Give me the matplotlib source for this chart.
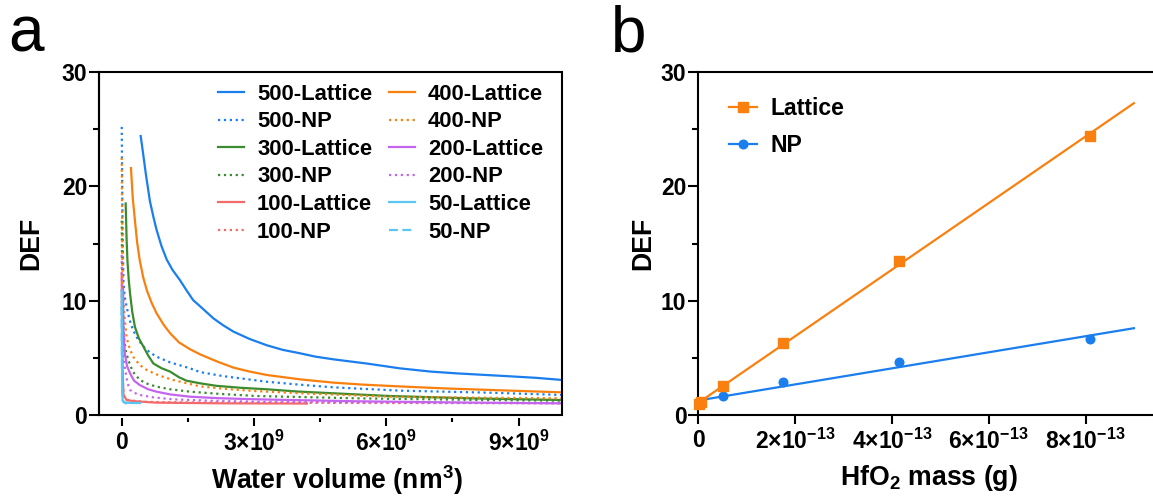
import numpy as np
import matplotlib
matplotlib.use('Agg')
import matplotlib.pyplot as plt
from matplotlib.patches import Rectangle
from matplotlib.lines import Line2D

plt.rcParams['font.family'] = ['Liberation Sans', 'DejaVu Sans']
plt.rcParams['mathtext.fontset'] = 'custom'
plt.rcParams['mathtext.rm'] = 'Liberation Sans:bold'
plt.rcParams['mathtext.bf'] = 'Liberation Sans:bold'
plt.rcParams['mathtext.it'] = 'Liberation Sans:bold'
plt.rcParams['mathtext.default'] = 'bf'

# ---------------- Panel a data (water volume in units of 1e9 nm^3) ----------------
v_500_lat = [0.43, 0.47, 0.55, 0.64, 0.72, 0.79, 0.9, 1.02, 1.15, 1.32, 1.47, 1.62, 1.78, 2.08, 2.3, 2.53,
             2.9, 3.29, 3.65, 4.04, 4.4, 4.8, 5.56, 6.31, 7.0, 7.6, 8.73, 9.4, 10.0]
d_500_lat = [24.4, 23.3, 21.0, 18.7, 17.3, 16.2, 14.8, 13.6, 12.7, 11.8, 10.9, 10.05, 9.5, 8.45, 7.85, 7.3,
             6.65, 6.1, 5.7, 5.4, 5.1, 4.87, 4.5, 4.08, 3.8, 3.64, 3.4, 3.25, 3.06]
v_500_np = [0.0, 0.01, 0.02, 0.04, 0.07, 0.11, 0.18, 0.26, 0.37, 0.49, 0.63, 0.79, 1.1, 1.55, 1.78, 2.3,
            3.29, 4.04, 4.8, 6.31, 8.35, 10.0]
d_500_np = [25.2, 21.0, 16.0, 11.5, 10.3, 9.5, 8.3, 7.4, 6.6, 6.0, 5.5, 5.1, 4.6, 4.08, 3.75, 3.4,
            2.91, 2.65, 2.42, 2.13, 1.95, 1.75]
v_400_lat = [0.21, 0.25, 0.30, 0.35, 0.41, 0.49, 0.57, 0.68, 0.79, 0.95, 1.10, 1.3, 1.55, 1.78, 2.15, 2.53,
             2.9, 3.29, 4.04, 4.8, 5.5, 6.31, 7.3, 8.35, 10.0]
d_400_lat = [21.6, 19.0, 17.0, 15.1, 13.5, 12.0, 10.9, 9.8, 8.9, 7.9, 7.14, 6.35, 5.75, 5.3, 4.7, 4.15,
             3.8, 3.5, 3.12, 2.83, 2.65, 2.5, 2.33, 2.19, 1.98]
v_400_np = [0.0, 0.01, 0.02, 0.05, 0.11, 0.18, 0.26, 0.4, 0.57, 0.85, 1.17, 1.78, 2.3, 3.0, 4.04, 6.08, 8.0, 10.0]
d_400_np = [22.5, 17.0, 12.0, 9.2, 6.8, 5.8, 5.1, 4.4, 3.93, 3.45, 3.06, 2.5, 2.3, 2.1, 1.9, 1.6, 1.52, 1.46]
v_300_lat = [0.09, 0.11, 0.13, 0.16, 0.19, 0.24, 0.30, 0.39, 0.49, 0.6, 0.72, 0.9, 1.10, 1.3, 1.47, 1.78,
             2.15, 2.7, 3.29, 4.0, 4.8, 6.08, 8.0, 10.0]
d_300_lat = [18.5, 15.5, 13.5, 11.8, 10.6, 9.0, 7.7, 6.7, 6.0, 5.2, 4.5, 4.1, 3.79, 3.3, 3.0, 2.77,
             2.55, 2.38, 2.25, 2.05, 1.9, 1.66, 1.45, 1.31]
v_300_np = [0.0, 0.01, 0.03, 0.06, 0.1, 0.15, 0.25, 0.41, 0.6, 0.79, 1.1, 1.55, 2.2, 3.06, 5.33, 8.0, 10.0]
d_300_np = [17.0, 12.0, 8.5, 6.5, 5.5, 4.8, 3.8, 3.06, 2.7, 2.48, 2.25, 2.04, 1.85, 1.66, 1.46, 1.32, 1.25]
v_200_lat = [0.03, 0.04, 0.07, 0.12, 0.19, 0.28, 0.41, 0.6, 0.79, 1.1, 1.55, 2.2, 3.06, 5.33, 8.0, 10.0]
d_200_lat = [11.0, 7.5, 5.4, 4.3, 3.64, 3.0, 2.62, 2.25, 2.04, 1.8, 1.6, 1.47, 1.37, 1.2, 1.08, 1.02]
v_200_np = [0.0, 0.01, 0.03, 0.08, 0.13, 0.19, 0.28, 0.41, 0.7, 1.17, 2.0, 3.06, 6.84, 10.0]
d_200_np = [14.0, 9.0, 5.5, 3.9, 2.8, 2.19, 1.95, 1.75, 1.55, 1.37, 1.25, 1.16, 1.07, 1.03]
v_100_lat = [0.0, 0.01, 0.02, 0.04, 0.11, 0.3, 0.79, 2.3, 4.2]
d_100_lat = [12.4, 8.0, 4.0, 1.8, 1.3, 1.2, 1.08, 1.02, 1.0]
v_100_np = [0.0, 0.01, 0.02, 0.05, 0.15, 0.5, 2.0, 6.0, 10.0]
d_100_np = [11.0, 6.0, 3.0, 1.6, 1.3, 1.15, 1.08, 1.05, 1.03]
v_50_lat = [0.0, 0.005, 0.01, 0.02, 0.05, 0.2, 0.42]
d_50_lat = [10.9, 6.0, 2.5, 1.3, 1.1, 1.05, 1.05]
v_50_np = [0.0, 0.005, 0.01, 0.03, 0.08, 0.12]
d_50_np = [9.5, 5.0, 2.0, 1.2, 1.05, 1.0]

a_xticks = [0, 3, 6, 9]
a_xticklabels = ['0', r'$3{\times}10^{9}$', r'$6{\times}10^{9}$', r'$9{\times}10^{9}$']
a_yticks = [0, 10, 20, 30]

# ---------------- Panel b data (HfO2 mass in units of 1e-13 g) ----------------
mass = [0.008, 0.065, 0.518, 1.75, 4.14, 8.09]
def_lattice = [1.0, 1.1, 2.5, 6.3, 13.5, 24.4]
def_np = [1.0, 1.05, 1.65, 2.9, 4.6, 6.65]
fit_x_range = [0.0, 9.0]
b_xticks = [0, 2, 4, 6, 8]
b_xticklabels = ['0', r'$2{\times}10^{-13}$', r'$4{\times}10^{-13}$', r'$6{\times}10^{-13}$', r'$8{\times}10^{-13}$']
b_yticks = [0, 10, 20, 30]

C_BLUE = '#1A7EEE'
C_ORANGE = '#F9800F'
C_GREEN = '#3B8C2E'
C_RED = '#F26B6B'
C_PURPLE = '#C465EE'
C_LBLUE = '#5CC6F3'

W, H = 1153, 497
fig = plt.figure(figsize=(W / 100, H / 100), dpi=100)

SP_LW = 1.5
TICK_FS = 16.5
LABEL_FS = 19.2

# ---------------- Panel a ----------------
axa = fig.add_axes([99 / W, 82 / H, (562 - 99) / W, 343 / H])
LW = 1.6
series = [
    (v_500_lat, d_500_lat, C_BLUE, '-', '500-Lattice'),
    (v_500_np, d_500_np, C_BLUE, ':', '500-NP'),
    (v_300_lat, d_300_lat, C_GREEN, '-', '300-Lattice'),
    (v_300_np, d_300_np, C_GREEN, ':', '300-NP'),
    (v_100_lat, d_100_lat, C_RED, '-', '100-Lattice'),
    (v_100_np, d_100_np, C_RED, ':', '100-NP'),
    (v_400_lat, d_400_lat, C_ORANGE, '-', '400-Lattice'),
    (v_400_np, d_400_np, C_ORANGE, ':', '400-NP'),
    (v_200_lat, d_200_lat, C_PURPLE, '-', '200-Lattice'),
    (v_200_np, d_200_np, C_PURPLE, ':', '200-NP'),
    (v_50_lat, d_50_lat, C_LBLUE, '-', '50-Lattice'),
    (v_50_np, d_50_np, C_LBLUE, '--', '50-NP'),
]
handles = []
for v, d, c, ls, lab in series:
    kw = dict(dashes=(4, 2)) if ls == '--' else {}
    h, = axa.plot(v, d, color=c, ls=ls, lw=LW, label=lab, solid_joinstyle='round', **kw)
    handles.append(h)

axa.set_xlim(-0.515, 9.985)
axa.set_ylim(0, 30)
for s in axa.spines.values():
    s.set_visible(False)
axa.spines['left'].set_visible(True)
axa.spines['left'].set_linewidth(SP_LW)
axa.spines['bottom'].set_visible(True)
axa.spines['bottom'].set_color('none')
axa.spines['bottom'].set_position(('outward', 2.5))
axa.add_patch(Rectangle((0, 0), 1, 1, transform=axa.transAxes, fill=False,
                        lw=SP_LW, ec='black', clip_on=False, zorder=5))
axa.set_xticks(a_xticks)
axa.set_xticklabels(a_xticklabels)
axa.set_xticks([1.5, 4.5, 7.5], minor=True)
axa.set_yticks(a_yticks)
axa.set_yticks([5, 15, 25], minor=True)
axa.tick_params(axis='x', which='major', length=5.5, width=SP_LW, labelsize=TICK_FS, pad=3.5)
axa.tick_params(axis='x', which='minor', length=3, width=SP_LW)
axa.tick_params(axis='y', which='major', length=7, width=SP_LW, labelsize=TICK_FS, pad=1.5)
axa.tick_params(axis='y', which='minor', length=4, width=SP_LW)
for t in axa.get_yticklabels() + axa.get_xticklabels():
    t.set_fontweight('bold')
axa.set_xlabel('Water volume (nm$^3$)', fontsize=LABEL_FS, fontweight='bold')
axa.xaxis.set_label_coords(0.513, -0.141)
axa.set_ylabel('DEF', fontsize=LABEL_FS, fontweight='bold')
axa.yaxis.set_label_coords(-0.118, 0.5)

leg_a = axa.legend(handles=handles, ncol=2, loc='upper left', bbox_to_anchor=(0.256, 0.966),
                   frameon=False, prop={'weight': 'bold', 'size': 15.8},
                   handlelength=1.2, handletextpad=0.6, columnspacing=0.75,
                   labelspacing=0.3, borderpad=0, borderaxespad=0)

# ---------------- Panel b ----------------
axb = fig.add_axes([698.3 / W, 82 / H, (W - 698.3) / W, 343 / H])
slope_l, icpt_l = np.polyfit(mass, def_lattice, 1)
slope_n, icpt_n = np.polyfit(mass, def_np, 1)
fx = np.array(fit_x_range)
axb.plot(fx, slope_n * fx + icpt_n, color=C_BLUE, lw=1.6, zorder=2)
axb.plot(fx, slope_l * fx + icpt_l, color=C_ORANGE, lw=1.6, zorder=3)
axb.plot(mass, def_np, 'o', color=C_BLUE, ms=6.2, zorder=4, clip_on=False)
axb.plot(mass, def_lattice, 's', color=C_ORANGE, ms=7, zorder=5, clip_on=False)
axb.set_xlim(0, (W - 698.3) / 48.4)
axb.set_ylim(0, 30)
axb.spines['right'].set_visible(False)
for k in ['left', 'bottom', 'top']:
    axb.spines[k].set_linewidth(SP_LW)
axb.set_xticks(b_xticks)
axb.set_xticklabels(b_xticklabels)
axb.set_yticks(b_yticks)
axb.set_yticks([5, 15, 25], minor=True)
axb.tick_params(axis='x', which='major', length=6.5, width=SP_LW, labelsize=TICK_FS, pad=3.5)
axb.tick_params(axis='y', which='major', length=7, width=SP_LW, labelsize=TICK_FS, pad=1.5)
axb.tick_params(axis='y', which='minor', length=4, width=SP_LW)
for t in axb.get_yticklabels() + axb.get_xticklabels():
    t.set_fontweight('bold')
axb.set_xlabel('HfO$_2$ mass (g)', fontsize=LABEL_FS, fontweight='bold')
axb.xaxis.set_label_coords(0.507, -0.141)
axb.set_ylabel('DEF', fontsize=LABEL_FS, fontweight='bold')
axb.yaxis.set_label_coords(-0.092, 0.5)

hb = [Line2D([], [], color=C_ORANGE, marker='s', ms=7, lw=1.6),
      Line2D([], [], color=C_BLUE, marker='o', ms=6.2, lw=1.6)]
axb.legend(hb, ['Lattice', 'NP'], loc='upper left', bbox_to_anchor=(0.068, 0.928),
           frameon=False, prop={'weight': 'bold', 'size': 16.6},
           handlelength=1.2, handletextpad=0.6, labelspacing=0.64,
           borderpad=0, borderaxespad=0)

# panel letters
fig.text(8 / W, 1 - 52 / H, 'a', fontsize=46, va='baseline', ha='left')
fig.text(611 / W, 1 - 52 / H, 'b', fontsize=46, va='baseline', ha='left')

fig.savefig('out.png', dpi=100)
